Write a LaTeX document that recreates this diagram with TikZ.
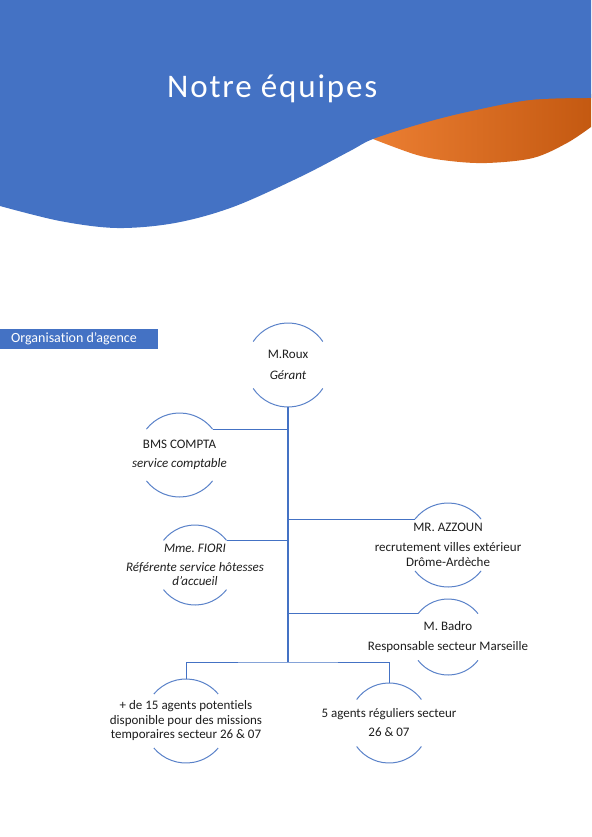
\documentclass[tikz,border=0pt]{standalone}
\usepackage{fontspec}
\setmainfont[Ligatures={TeX,NoCommon}]{Carlito}
\newfontfamily\titlefont[LetterSpace=5.5,Ligatures={NoCommon}]{Carlito}
\frenchspacing
\definecolor{hdrblue}{HTML}{4472C4}
\definecolor{lineblue}{HTML}{4472C4}
\definecolor{arcblue}{HTML}{5A82C9}
\definecolor{orngL}{HTML}{EC7F33}
\definecolor{orngR}{HTML}{C45911}
\definecolor{txtgray}{HTML}{1E1E1E}
\newcommand\drawarcs[3]{%
  \coordinate (#1-tl) at ([shift={(90+#3:#2)}]#1.center);
  \coordinate (#1-tr) at ([shift={(90-#3:#2)}]#1.center);
  \coordinate (#1-top) at ([shift={(90:#2)}]#1.center);
  \coordinate (#1-bot) at ([shift={(270:#2)}]#1.center);
  \coordinate (#1-bl) at ([shift={(270-#3:#2)}]#1.center);
  \draw[arcline] (#1-tl) arc[start angle=90+#3,end angle=90-#3,radius=#2];
  \draw[arcline] (#1-bl) arc[start angle=270-#3,end angle=270+#3,radius=#2];}
\begin{document}
\begin{tikzpicture}[x=1pt,y=1pt,
  conn/.style={draw=lineblue,line width=1pt},
  trunk/.style={draw=lineblue,line width=1.6pt},
  arcline/.style={draw=arcblue,line width=1pt},
  person/.style={align=center,inner sep=0pt,text=txtgray,font=\fontsize{13}{14.5}\selectfont}]
\useasboundingbox (0,0) rectangle (591,-837);
\fill[white] (0,0) rectangle (591,-837);
% orange wedge (under the blue)
\shade[left color=orngL,right color=orngR]
  plot[smooth,tension=0.55] coordinates {(368,-138) (420,-120) (467,-108) (530,-96) (591,-94)}
  -- plot[smooth,tension=0.55] coordinates {(591,-127) (567,-143) (533,-158) (487,-163) (450,-161) (417,-155) (373,-139)}
  -- cycle;
% blue header
\fill[hdrblue] (0,0) -- (591,0) --
  plot[smooth,tension=0.55] coordinates {(591,-98) (530,-100) (467,-112) (420,-124) (373,-139) (350,-151) (300,-177) (233,-207) (175,-223) (117,-228) (60,-221) (0,-206)}
  -- cycle;
\node[anchor=base west,text=white,inner sep=0pt,font=\titlefont\fontsize{33}{36}\selectfont] (title) at (167,-98) {Notre équipes};
% section label
\node[fill=hdrblue,minimum width=158pt,minimum height=20pt,anchor=north west,inner sep=0pt] (orgbox) at (0,-329) {};
\node[anchor=west,text=white,inner sep=0pt,font=\fontsize{14}{16}\selectfont] (orgtxt) at (11,-339) {Organisation d’agence};
% people
\node[person] (roux) at (288,-365) {M.Roux\\[6.5pt]\textit{Gérant}};
\node[person] (bms) at (179.5,-455) {BMS COMPTA\\[4.5pt]\textit{service comptable}};
\node[person] (fiori) at (195,-565) {\textit{Mme. FIORI}\\[4.5pt]\textit{Référente service hôtesses}\\\textit{d’accueil}};
\node[person] (azz) at (448,-545) {MR. AZZOUN\\[5.5pt]recrutement villes extérieur\\Drôme-Ardèche};
\node[person] (badro) at (448,-637) {M. Badro\\[5.5pt]Responsable secteur Marseille};
\node[person] (bl) at (186,-721) {+ de 15 agents potentiels\\disponible pour des missions\\temporaires secteur 26 \& 07};
\node[person] (br) at (389,-723) {5 agents réguliers secteur\\[4.5pt]26 \& 07};
\drawarcs{roux}{42}{56}
\drawarcs{bms}{42}{52}
\drawarcs{fiori}{40}{52}
\drawarcs{azz}{42}{52}
\drawarcs{badro}{38}{52}
\drawarcs{bl}{42}{50}
\drawarcs{br}{40}{54}
% connectors
\coordinate (jn) at (288,-662);
\draw[trunk] (roux-bot) -- (jn);
\draw[conn] (bms-tr) -- (bms-tr -| jn);
\draw[conn] (fiori-tr) -- (fiori-tr -| jn);
\draw[conn] (azz-tl) -- (azz-tl -| jn);
\draw[conn] (badro-tl) -- (badro-tl -| jn);
\draw[conn] (bl-top) |- (jn) -| (br-top);
\end{tikzpicture}
\end{document}
